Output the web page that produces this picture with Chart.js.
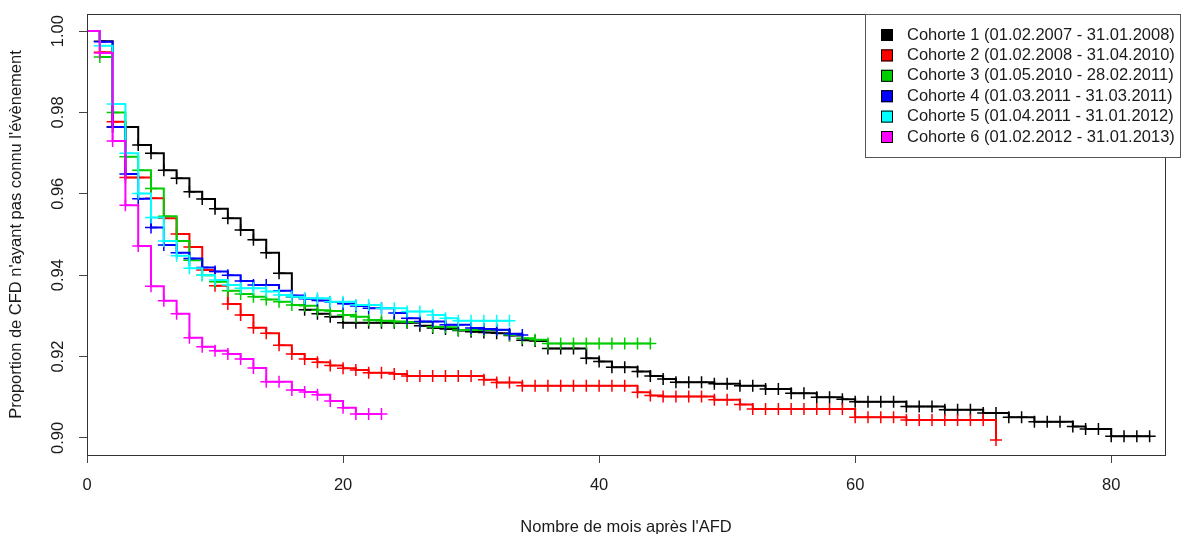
<!DOCTYPE html>
<html>
<head>
<meta charset="utf-8">
<script src="https://cdn.jsdelivr.net/npm/chart.js@4/dist/chart.umd.min.js"></script>
<style>
  body { margin: 0; background: #fff; }
  #wrap { width: 1182px; height: 534px; }
</style>
</head>
<body>
<div id="wrap"><canvas id="km" width="1182" height="534"></canvas></div>
<script>
// Kaplan-Meier curves, one value per month (survival after month t)
var cohortLabels = [
    'Cohorte 1 (01.02.2007 - 31.01.2008)',
    'Cohorte 2 (01.02.2008 - 31.04.2010)',
    'Cohorte 3 (01.05.2010 - 28.02.2011)',
    'Cohorte 4 (01.03.2011 - 31.03.2011)',
    'Cohorte 5 (01.04.2011 - 31.01.2012)',
    'Cohorte 6 (01.02.2012 - 31.01.2013)'
];
var cohortColors = ['#000000', '#ff0000', '#00cd00', '#0000ff', '#00ffff', '#ff00ff'];

var surv1 = [1.0, 0.9975, 0.9764, 0.9764, 0.9720, 0.9700, 0.9658, 0.9638, 0.9605, 0.9587,
    0.9563, 0.9540, 0.9511, 0.9487, 0.9455, 0.9405, 0.9347, 0.9315, 0.9305, 0.9298,
    0.9283, 0.9283, 0.9283, 0.9283, 0.9283, 0.9283, 0.9276, 0.9270, 0.9268, 0.9264,
    0.9261, 0.9259, 0.9257, 0.9252, 0.9240, 0.9238, 0.9220, 0.9220, 0.9220, 0.9196,
    0.9188, 0.9174, 0.9174, 0.9163, 0.9152, 0.9145, 0.9137, 0.9137, 0.9137, 0.9133,
    0.9133, 0.9128, 0.9128, 0.9120, 0.9120, 0.9110, 0.9110, 0.9100, 0.9100, 0.9095,
    0.9089, 0.9089, 0.9089, 0.9089, 0.9077, 0.9077, 0.9077, 0.9069, 0.9069, 0.9069,
    0.9061, 0.9061, 0.9051, 0.9051, 0.9040, 0.9040, 0.9040, 0.9028, 0.9022, 0.9022,
    0.9004, 0.9004, 0.9004, 0.9004];
var surv2 = [1.0, 0.9948, 0.9777, 0.9640, 0.9640, 0.9589, 0.9540, 0.9501, 0.9469, 0.9413,
    0.9374, 0.9329, 0.9302, 0.9271, 0.9257, 0.9228, 0.9206, 0.9194, 0.9186, 0.9178,
    0.9171, 0.9167, 0.9160, 0.9160, 0.9157, 0.9152, 0.9152, 0.9152, 0.9152, 0.9152,
    0.9152, 0.9143, 0.9136, 0.9136, 0.9128, 0.9128, 0.9128, 0.9128, 0.9128, 0.9128,
    0.9128, 0.9128, 0.9128, 0.9112, 0.9104, 0.9102, 0.9102, 0.9102, 0.9102, 0.9094,
    0.9094, 0.9082, 0.9071, 0.9071, 0.9071, 0.9071, 0.9071, 0.9071, 0.9071, 0.9071,
    0.9051, 0.9051, 0.9051, 0.9051, 0.9044, 0.9044, 0.9044, 0.9044, 0.9044, 0.9044,
    0.9044, 0.8995];
var surv3 = [1.0, 0.9936, 0.9800, 0.9691, 0.9658, 0.9613, 0.9545, 0.9484, 0.9437, 0.9400,
    0.9384, 0.9362, 0.9354, 0.9347, 0.9340, 0.9335, 0.9327, 0.9325, 0.9314, 0.9312,
    0.9302, 0.9298, 0.9290, 0.9288, 0.9286, 0.9285, 0.9285, 0.9273, 0.9272, 0.9265,
    0.9265, 0.9265, 0.9265, 0.9253, 0.9245, 0.9241, 0.9232, 0.9232, 0.9232, 0.9232,
    0.9232, 0.9232, 0.9232, 0.9232, 0.9232];
var surv4 = [1.0, 0.9974, 0.9764, 0.9649, 0.9588, 0.9517, 0.9474, 0.9455, 0.9441, 0.9419,
    0.9409, 0.9400, 0.9386, 0.9376, 0.9376, 0.9362, 0.9350, 0.9342, 0.9338, 0.9334,
    0.9330, 0.9324, 0.9319, 0.9319, 0.9307, 0.9294, 0.9286, 0.9286, 0.9278, 0.9278,
    0.9270, 0.9268, 0.9266, 0.9256, 0.9253];
var surv5 = [1.0, 0.9964, 0.9821, 0.9700, 0.9601, 0.9542, 0.9484, 0.9448, 0.9417, 0.9400,
    0.9388, 0.9376, 0.9368, 0.9368, 0.9360, 0.9351, 0.9347, 0.9343, 0.9343, 0.9335,
    0.9335, 0.9327, 0.9327, 0.9319, 0.9319, 0.9311, 0.9311, 0.9302, 0.9294, 0.9288,
    0.9288, 0.9288, 0.9288, 0.9288];
var surv6 = [1.0, 0.9946, 0.9730, 0.9572, 0.9472, 0.9373, 0.9337, 0.9305, 0.9246, 0.9224,
    0.9214, 0.9206, 0.9194, 0.9172, 0.9138, 0.9138, 0.9118, 0.9113, 0.9106, 0.9091,
    0.9074, 0.9059, 0.9059, 0.9059];

var xTicks = [0, 20, 40, 60, 80];
var yTicks = [0.90, 0.92, 0.94, 0.96, 0.98, 1.00];
var xTitle = "Nombre de mois après l'AFD";
var yTitle = "Proportion de CFD n'ayant pas connu l'évènement";

var FONT = "'Liberation Sans', Arial, sans-serif";
var TXT = '#1a1a1a';

// every month after 0 carries a censoring mark (+)
function toPoints(surv) {
    return surv.map((s, m) => ({ x: m, y: s }));
}

var allSurv = [surv1, surv2, surv3, surv4, surv5, surv6];
var datasets = allSurv.map((s, i) => ({
    label: cohortLabels[i],
    data: toPoints(s),
    borderColor: cohortColors[i],
    backgroundColor: cohortColors[i],
    borderWidth: 2,
    stepped: true,
    fill: false,
    pointStyle: 'cross',
    pointRadius: ctx => ctx.dataIndex > 0 ? 6 : 0,
    pointBorderWidth: 1.5,
    pointHoverRadius: 0,
    order: allSurv.length - i
}));

// frame around the plot region + R-style legend
var framePlugin = {
    id: 'frame',
    afterDatasetsDraw(chart) {
        var a = chart.chartArea, c = chart.ctx;
        c.save();
        c.strokeStyle = '#333';
        c.lineWidth = 1;
        c.strokeRect(a.left + 0.5, a.top + 0.5, a.right - a.left, a.bottom - a.top);
        c.restore();
    },
    afterDraw(chart) {
        var c = chart.ctx;
        var bx = 865, by = 14, bw = 315, bh = 143;
        c.save();
        c.fillStyle = '#fff';
        c.fillRect(bx, by, bw, bh);
        c.strokeStyle = '#555';
        c.lineWidth = 1;
        c.strokeRect(bx + 0.5, by + 0.5, bw, bh);
        c.font = '16.5px ' + FONT;
        c.textBaseline = 'middle';
        chart.data.datasets.forEach((ds, i) => {
            var y = 35 + i * 20.4;
            c.fillStyle = ds.borderColor;
            c.fillRect(881, y - 6, 12, 12);
            c.strokeStyle = '#000';
            c.strokeRect(881.5, y - 5.5, 11, 11);
            c.fillStyle = TXT;
            c.fillText(ds.label, 907, y);
        });
        c.restore();
    }
};

var chart = new Chart(document.getElementById('km'), {
    type: 'line',
    data: { datasets: datasets },
    plugins: [framePlugin],
    options: {
        responsive: false,
        animation: false,
        devicePixelRatio: 1,
        layout: { padding: { left: 0, right: 17, top: 14, bottom: 0 } },
        plugins: { legend: { display: false }, tooltip: { enabled: false } },
        scales: {
            x: {
                type: 'linear',
                min: 0,
                max: 84.2,
                afterBuildTicks: s => { s.ticks = xTicks.map(v => ({ value: v })); },
                afterFit: s => { s.height = 79; s.paddingLeft = 0; s.paddingRight = 0; },
                border: { display: false },
                grid: { drawOnChartArea: false, drawTicks: true, tickLength: 8, color: '#444' },
                ticks: { color: TXT, font: { family: FONT, size: 16.5 }, padding: 13, maxRotation: 0 },
                title: { display: true, text: xTitle, color: TXT, font: { family: FONT, size: 16.5 }, padding: { top: 0, bottom: -3 } }
            },
            y: {
                min: 0.8958,
                max: 1.0042,
                afterBuildTicks: s => { s.ticks = yTicks.map(v => ({ value: v })); },
                afterFit: s => { s.width = 87; s.paddingTop = 0; s.paddingBottom = 0; },
                border: { display: false },
                grid: { drawOnChartArea: false, drawTicks: true, tickLength: 8, color: '#444' },
                ticks: {
                    color: TXT, font: { family: FONT, size: 16.5 },
                    minRotation: 90, maxRotation: 90, crossAlign: 'center', padding: 4,
                    callback: v => v.toFixed(2)
                },
                title: { display: true, text: yTitle, color: TXT, font: { family: FONT, size: 16.5 }, padding: { top: 7, bottom: 0 } }
            }
        }
    }
});
</script>
</body>
</html>
